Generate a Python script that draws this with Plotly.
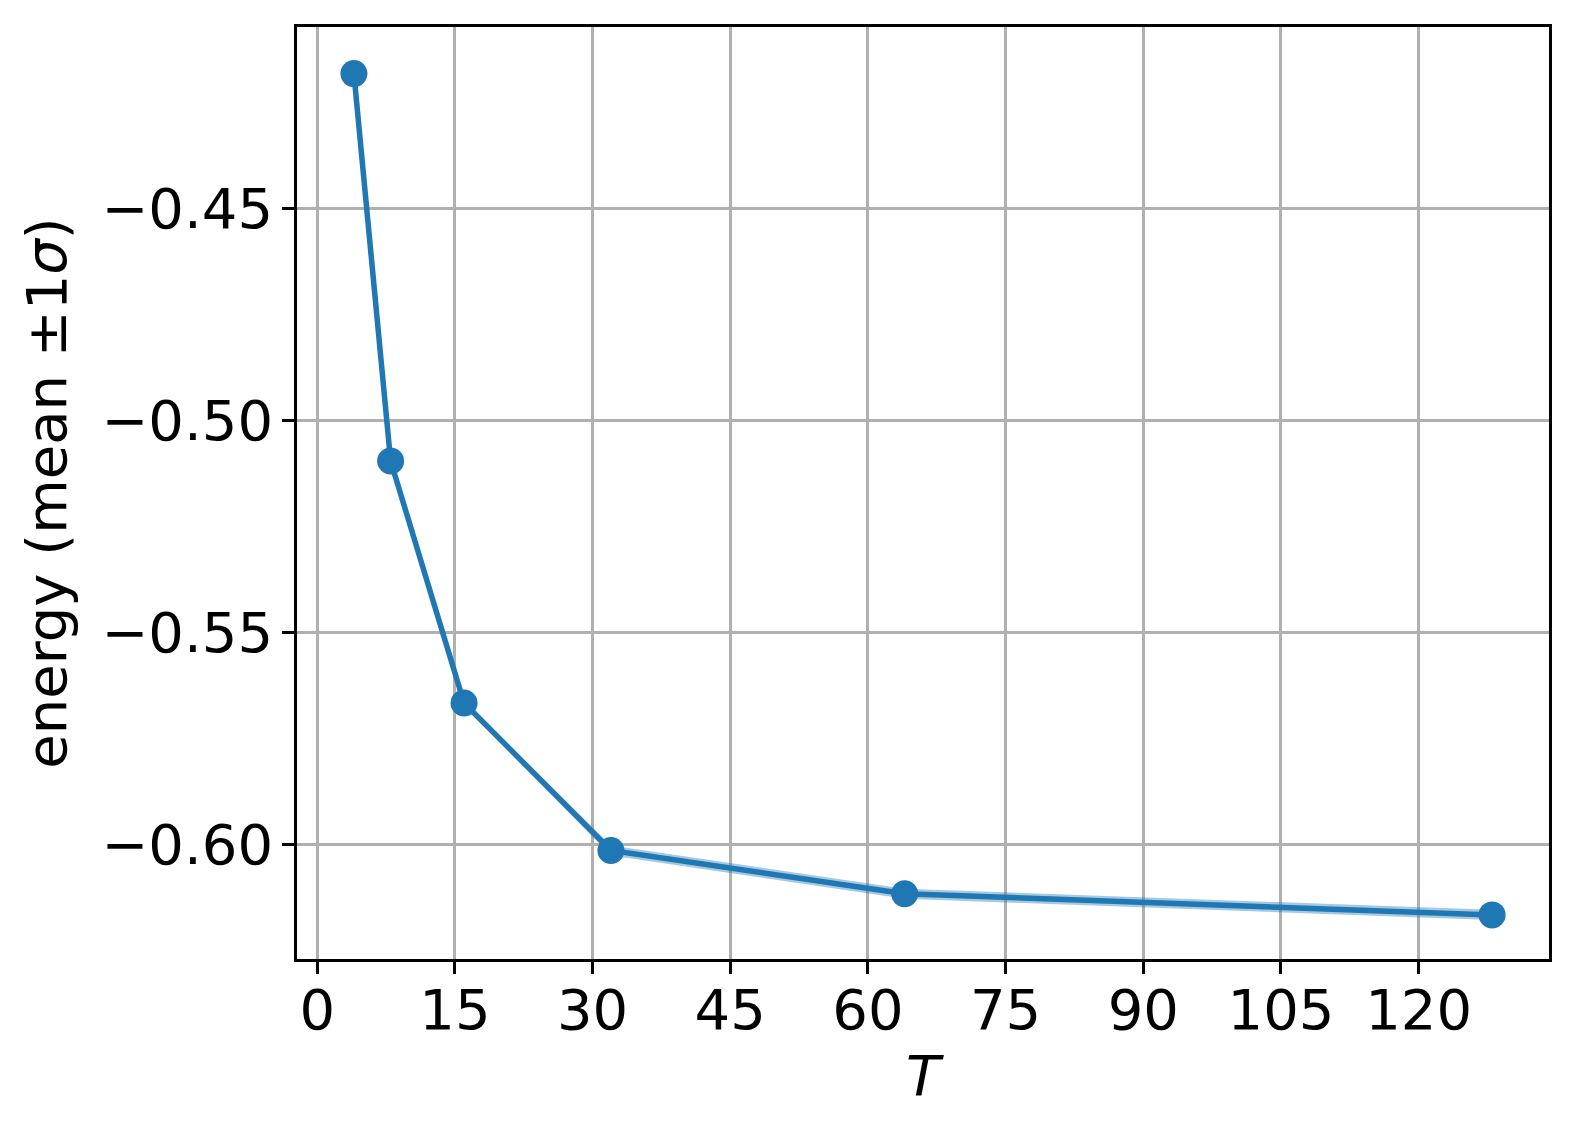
import plotly.graph_objects as go

# horizon lengths and energy statistics
T = [4, 8, 16, 32, 64, 128]
energy_mean = [-0.4181, -0.5095, -0.5666, -0.6014, -0.6116, -0.6166]
energy_std = [0.0002, 0.0003, 0.0006, 0.0012, 0.0012, 0.0012]

x_ticks = [0, 15, 30, 45, 60, 75, 90, 105, 120]
y_ticks = [-0.60, -0.55, -0.50, -0.45]
y_ticktext = ["\u22120.60", "\u22120.55", "\u22120.50", "\u22120.45"]

blue = "#1f77b4"
upper = [m + s for m, s in zip(energy_mean, energy_std)]
lower = [m - s for m, s in zip(energy_mean, energy_std)]

fig = go.Figure()

# +-1 sigma band
fig.add_trace(go.Scatter(x=T, y=upper, mode="lines", line=dict(width=0),
                         showlegend=False, hoverinfo="skip"))
fig.add_trace(go.Scatter(x=T, y=lower, mode="lines", line=dict(width=0),
                         fill="tonexty", fillcolor="rgba(31,119,180,0.4)",
                         showlegend=False, hoverinfo="skip"))

# mean curve
fig.add_trace(go.Scatter(x=T, y=energy_mean, mode="lines+markers",
                         line=dict(color=blue, width=5.5),
                         marker=dict(color=blue, size=27),
                         showlegend=False))

font = dict(family="DejaVu Sans", size=56, color="black")

fig.update_layout(
    width=1560, height=1117,
    margin=dict(l=289, r=19, t=19, b=166),
    paper_bgcolor="white", plot_bgcolor="white",
    font=font,
    xaxis=dict(
        range=[-2.2, 134.2], tickvals=x_ticks,
        showgrid=True, gridcolor="#b0b0b0", gridwidth=2.5,
        showline=True, linecolor="black", linewidth=2.5, mirror=True,
        ticks="outside", ticklen=12, tickwidth=2.5, tickcolor="black",
        zeroline=False, ticklabelstandoff=-12,
        title=dict(text="<i>T</i>", font=font, standoff=15),
    ),
    yaxis=dict(
        range=[-0.6270, -0.4071], tickvals=y_ticks, ticktext=y_ticktext,
        showgrid=True, gridcolor="#b0b0b0", gridwidth=2.5,
        showline=True, linecolor="black", linewidth=2.5, mirror=True,
        ticks="outside", ticklen=12, tickwidth=2.5, tickcolor="black",
        zeroline=False, ticklabelstandoff=-2,
        title=dict(text="energy (mean ±1<i>σ</i>)", font=font, standoff=17),
    ),
)

fig.write_html("out.html")
